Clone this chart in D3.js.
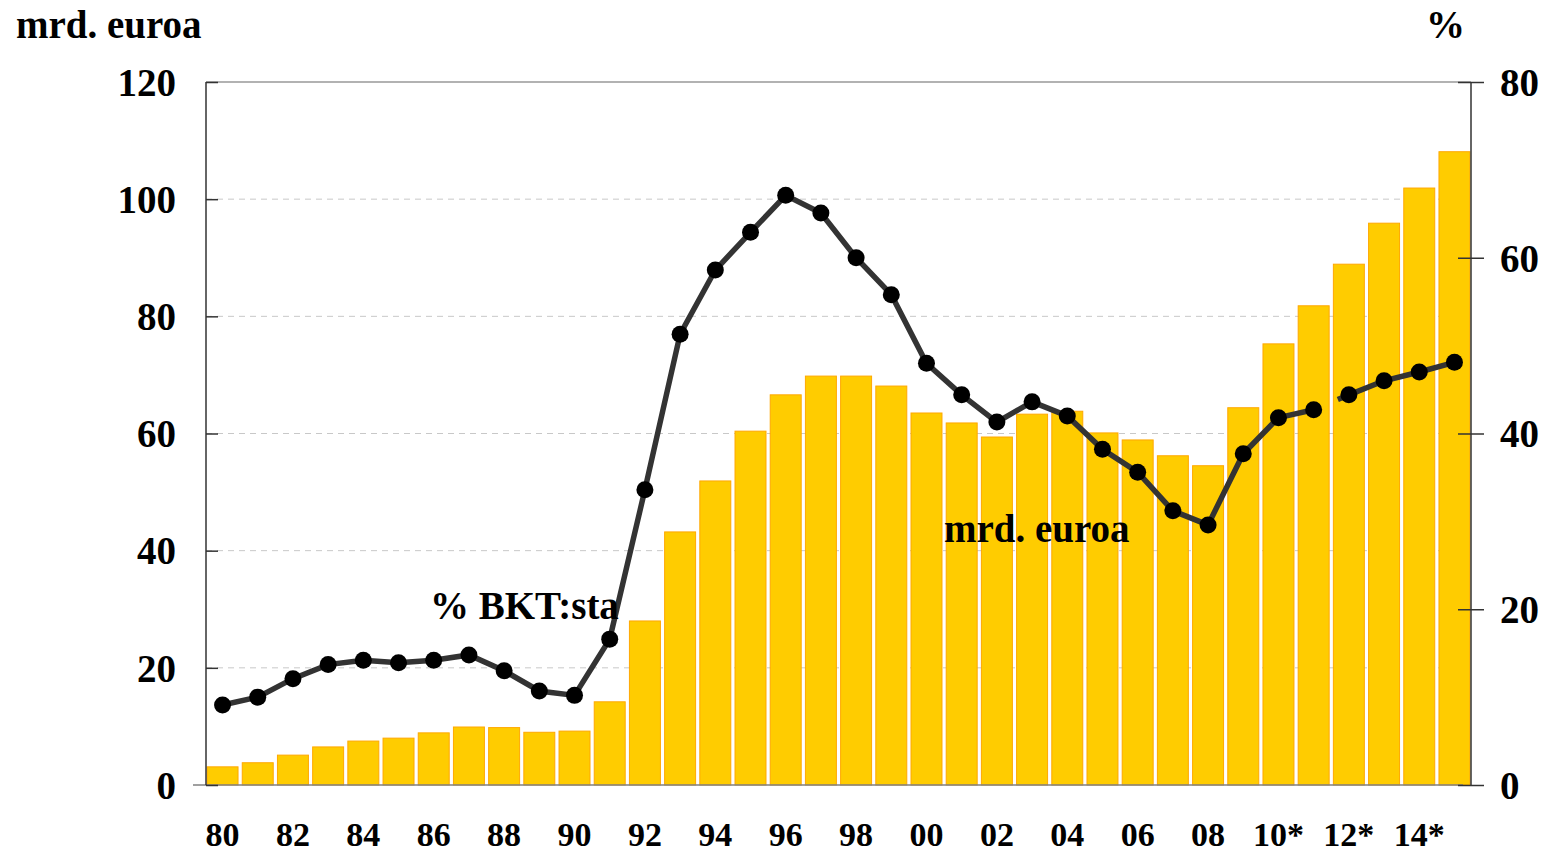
<!DOCTYPE html>
<meta charset="utf-8">
<head>
<script src="https://d3js.org/d3.v7.min.js"></script>
<style>
  body { margin: 0; background: #fff; }
  text { font-family: "Liberation Serif", "Times New Roman", serif; font-weight: bold; }
</style>
</head>
<div id="chart"></div>
<script>
  // data
  var years = d3.range(1980, 2016);
  var yearLabels = ["80","81","82","83","84","85","86","87","88","89",
                    "90","91","92","93","94","95","96","97","98","99",
                    "00","01","02","03","04","05","06","07","08","09",
                    "10*","11*","12*","13*","14*","15*"];
  var euros = [3.1, 3.8, 5.1, 6.5, 7.5, 8.0, 8.9, 9.9, 9.8, 9.0,
               9.2, 14.2, 28.0, 43.2, 51.9, 60.4, 66.6, 69.8, 69.8, 68.1,
               63.5, 61.8, 59.4, 63.3, 63.8, 60.1, 58.9, 56.2, 54.5, 64.4,
               75.3, 81.8, 88.9, 95.9, 101.9, 108.1];
  var pctGdp = [9.1, 10.0, 12.1, 13.7, 14.2, 13.9, 14.2, 14.8, 13.0, 10.7,
                10.2, 16.6, 33.6, 51.3, 58.6, 62.9, 67.1, 65.1, 60.0, 55.8,
                48.0, 44.4, 41.3, 43.6, 42.0, 38.2, 35.6, 31.2, 29.6, 37.7,
                41.8, 42.7, 44.4, 46.0, 47.0, 48.1];
  var leftTicks = [0, 20, 40, 60, 80, 100, 120];
  var rightTicks = [0, 20, 40, 60, 80];
  var breakYear = 2012; // line is broken between 2011 and 2012

  var W = 1547, H = 853;
  var margin = {top: 82, right: 76, bottom: 68, left: 206};
  var width = W - margin.left - margin.right,
      height = H - margin.top - margin.bottom;

  var svg = d3.select("#chart").append("svg")
      .attr("width", W).attr("height", H)
    .append("g")
      .attr("transform", "translate(" + margin.left + "," + margin.top + ")");

  var x = d3.scaleBand().domain(years).range([0, width]).paddingInner(0.12).paddingOuter(0.03);
  var yL = d3.scaleLinear().domain([0, 120]).range([height, 0]);
  var yR = d3.scaleLinear().domain([0, 80]).range([height, 0]);

  // grid
  svg.selectAll(".grid").data(leftTicks.filter(function(d){ return d > 0 && d < 120; }))
    .enter().append("line")
      .attr("x1", 0).attr("x2", width)
      .attr("y1", function(d){ return yL(d); }).attr("y2", function(d){ return yL(d); })
      .style("stroke", "#c8c8c8").style("stroke-dasharray", "6,5").style("stroke-width", 1);

  // top border
  svg.append("line").attr("x1", 0).attr("x2", width).attr("y1", 0).attr("y2", 0)
    .style("stroke", "#999").style("stroke-width", 1.5);

  // bars
  svg.selectAll(".bar").data(years).enter().append("rect")
      .attr("x", function(d){ return x(d); })
      .attr("y", function(d, i){ return yL(euros[i]); })
      .attr("width", x.bandwidth())
      .attr("height", function(d, i){ return height - yL(euros[i]); })
      .style("fill", "#FFCC00")
      .style("stroke", "#FFA800").style("stroke-width", 1);

  // baseline
  svg.append("line").attr("x1", -13).attr("x2", width - 8).attr("y1", height).attr("y2", height)
    .style("stroke", "#808080").style("stroke-width", 1.5);

  // left axis
  var axL = svg.append("g")
    .call(d3.axisLeft(yL).tickValues(leftTicks).tickSize(13).tickPadding(17));
  axL.select(".domain").remove();
  axL.selectAll(".tick line").attr("x2", 12).style("stroke", "#333").style("stroke-width", 1.5);
  axL.append("line").attr("y1", 0).attr("y2", height).style("stroke", "#333").style("stroke-width", 1.5);
  axL.selectAll("text").style("font-size", "39px").style("fill", "#000")
    .style("font-family", "Liberation Serif").attr("dy", "0.34em");

  // right axis
  var axR = svg.append("g").attr("transform", "translate(" + width + ",0)")
    .call(d3.axisRight(yR).tickValues(rightTicks).tickSize(13).tickPadding(16));
  axR.select(".domain").remove();
  axR.selectAll(".tick line").attr("x1", -13).style("stroke", "#333").style("stroke-width", 1.5);
  axR.append("line").attr("y1", 0).attr("y2", height).style("stroke", "#333").style("stroke-width", 1.5);
  axR.selectAll("text").style("font-size", "39px").style("fill", "#000")
    .style("font-family", "Liberation Serif").attr("dy", "0.34em");

  // x axis labels
  var axB = svg.append("g").attr("transform", "translate(0," + height + ")")
    .call(d3.axisBottom(x).tickValues(years.filter(function(d){ return d % 2 === 0; }))
      .tickFormat(function(d){ return yearLabels[years.indexOf(d)]; })
      .tickSize(0).tickPadding(50));
  axB.select(".domain").remove();
  axB.selectAll("text").style("font-size", "34px").style("fill", "#000")
    .style("font-family", "Liberation Serif").attr("dy", "0.32em");

  // line
  var pts = years.map(function(d, i){ return {year: d, v: pctGdp[i]}; });
  var line = d3.line()
    .x(function(d){ return x(d.year) + x.bandwidth() / 2; })
    .y(function(d){ return yR(d.v); });
  var lineStyle = function(sel) {
    sel.style("fill", "none").style("stroke", "#333").style("stroke-width", 5.5);
  };
  svg.append("path").datum(pts.filter(function(d){ return d.year < breakYear; }))
    .attr("d", line).call(lineStyle);
  svg.append("path").datum(pts.filter(function(d){ return d.year >= breakYear; }))
    .attr("d", line).call(lineStyle);
  // short stub left of the break
  svg.append("path").datum(pts.filter(function(d){ return d.year === breakYear || d.year === breakYear - 1; }).reverse())
    .attr("d", line).call(lineStyle).style("stroke-dasharray", "12,1000");

  svg.selectAll(".dot").data(pts).enter().append("circle")
    .attr("cx", function(d){ return x(d.year) + x.bandwidth() / 2; })
    .attr("cy", function(d){ return yR(d.v); })
    .attr("r", 8.5).style("fill", "#000");

  // labels
  svg.append("text").attr("x", 16 - margin.left).attr("y", 38 - margin.top)
    .style("font-size", "39px").text("mrd. euroa");
  svg.append("text").attr("x", 1465 - margin.left).attr("y", 38 - margin.top)
    .attr("text-anchor", "end").style("font-size", "39px").text("%");
  svg.append("text").attr("x", 430 - margin.left).attr("y", 619 - margin.top)
    .style("font-size", "39px").text("% BKT:sta");
  svg.append("text").attr("x", 944 - margin.left).attr("y", 542 - margin.top)
    .style("font-size", "39px").text("mrd. euroa");
</script>
